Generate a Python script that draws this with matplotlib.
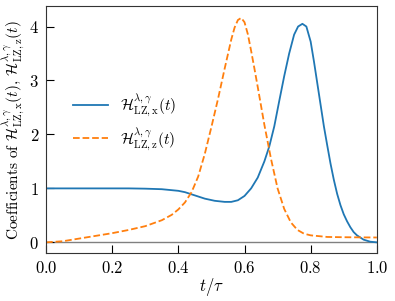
import numpy as np
import matplotlib
matplotlib.use("Agg")
import matplotlib.pyplot as plt

plt.rcParams['font.family'] = 'serif'
plt.rcParams['font.serif'] = ['cmr10']
plt.rcParams['mathtext.fontset'] = 'cm'
plt.rcParams['axes.unicode_minus'] = False
plt.rcParams['axes.formatter.use_mathtext'] = True

# values
t_x = [0.0, 0.05, 0.10, 0.15, 0.20, 0.25, 0.30, 0.35, 0.40, 0.42, 0.45, 0.48,
       0.51, 0.54, 0.56, 0.58, 0.60, 0.62, 0.64, 0.66, 0.675, 0.69, 0.705,
       0.72, 0.735, 0.75, 0.762, 0.775, 0.787, 0.80, 0.81, 0.82, 0.83, 0.84,
       0.85, 0.86, 0.87, 0.88, 0.89, 0.90, 0.91, 0.92, 0.93, 0.94, 0.96,
       0.98, 1.0]
h_x = [1.0, 1.0, 1.0, 1.0, 1.0, 1.0, 0.995, 0.985, 0.955, 0.93, 0.87, 0.81,
       0.77, 0.75, 0.75, 0.78, 0.86, 1.00, 1.20, 1.50, 1.78, 2.15, 2.62,
       3.08, 3.50, 3.85, 4.00, 4.05, 4.00, 3.72, 3.35, 2.95, 2.55, 2.15,
       1.80, 1.46, 1.16, 0.90, 0.69, 0.52, 0.39, 0.28, 0.19, 0.13, 0.05,
       0.012, 0.0]

t_z = [0.0, 0.05, 0.10, 0.15, 0.20, 0.25, 0.30, 0.35, 0.38, 0.40, 0.42, 0.44,
       0.46, 0.48, 0.50, 0.52, 0.54, 0.56, 0.57, 0.58, 0.59, 0.60, 0.61, 0.62,
       0.63, 0.64, 0.66, 0.68, 0.70, 0.72, 0.74, 0.76, 0.78, 0.80, 0.85, 0.90,
       1.0]
h_z = [0.0, 0.02, 0.07, 0.12, 0.17, 0.23, 0.30, 0.41, 0.51, 0.61, 0.74, 0.93,
       1.22, 1.64, 2.14, 2.66, 3.22, 3.76, 3.98, 4.12, 4.16, 4.08, 3.86, 3.55,
       3.22, 2.88, 2.18, 1.55, 1.00, 0.62, 0.37, 0.23, 0.16, 0.13, 0.10, 0.095,
       0.09]

fig = plt.figure(figsize=(3.95, 3.01), dpi=100)
ax = fig.add_axes([0.1165, 0.159, 0.8375, 0.821])

ax.axhline(0, color='gray', lw=1.0, zorder=1)
ax.plot(t_x, h_x, color='C0', lw=1.3, label=r'$\mathcal{H}^{\lambda,\gamma}_{\rm LZ,x}(t)$')
ax.plot(t_z, h_z, color='C1', lw=1.3, ls='--', label=r'$\mathcal{H}^{\lambda,\gamma}_{\rm LZ,z}(t)$')

ax.set_xlim(0, 1)
ax.set_ylim(-0.2, 4.38)
ax.set_xticks([0.0, 0.2, 0.4, 0.6, 0.8, 1.0])
ax.set_yticks([0, 1, 2, 3, 4])
ax.tick_params(direction='in', length=6, labelsize=12, pad=5)
for s in ax.spines.values():
    s.set_color('#333333')

ax.set_xlabel(r'$t/\tau$', fontsize=12, labelpad=0)
ax.set_ylabel(r'Coefficients of $\mathcal{H}^{\lambda,\gamma}_{\rm LZ,x}(t)$, $\mathcal{H}^{\lambda,\gamma}_{\rm LZ,z}(t)$',
              fontsize=11, labelpad=2)
ax.legend(loc='center left', bbox_to_anchor=(0.04, 0.53), frameon=False, fontsize=11,
          handlelength=2.3)

fig.savefig('out.png', dpi=100)
